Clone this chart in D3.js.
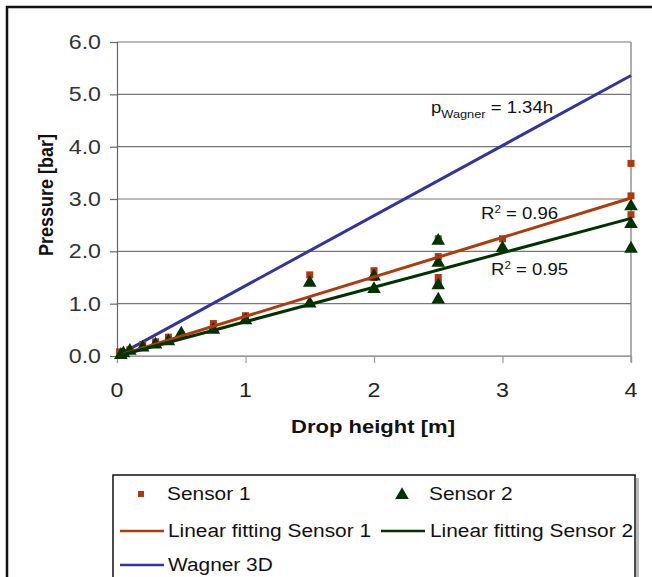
<!DOCTYPE html>
<html><head><meta charset="utf-8">
<script src="https://cdn.jsdelivr.net/npm/d3@7"></script>
<style>body{margin:0;background:#fff}svg{display:block}text{font-family:"Liberation Sans",Arial,sans-serif}</style>
</head><body>
<script>
const xTicks = [0,1,2,3,4];
const yTicks = [0,1,2,3,4,5,6];
const s1X = [0.02,0.05,0.1,0.2,0.3,0.4,0.5,0.75,1.0,1.5,2.0,2.0,2.5,2.5,2.5,2.5,3.0,4.0,4.0,4.0];
const s1Y = [0.08,0.05,0.12,0.22,0.27,0.36,0.40,0.62,0.77,1.55,1.63,1.50,2.24,1.90,1.50,1.40,2.24,3.68,3.06,2.70];
const s2X = [0.03,0.05,0.1,0.2,0.3,0.4,0.5,0.75,1.0,1.5,1.5,2.0,2.0,2.5,2.5,2.5,2.5,3.0,4.0,4.0,4.0];
const s2Y = [0.02,0.05,0.10,0.16,0.22,0.28,0.43,0.50,0.68,1.40,1.00,1.52,1.28,2.20,1.78,1.35,1.08,2.06,2.86,2.52,2.05];
const fit1X = [0.05,4.0], fit1Y = [0.04,3.02];
const fit2X = [0.05,4.0], fit2Y = [0.03,2.63];
const wagX = [0.05,4.0], wagY = [0.07,5.36];
const C1 = "#b03a0c", C2 = "#003300", CW = "#3434a0";
const SX = 1.16; // horizontal stretch of the reference text

const svg = d3.select("body").append("svg").attr("width",652).attr("height",577);
svg.append("rect").attr("x",7).attr("y",7).attr("width",700).attr("height",700)
  .attr("fill","none").attr("stroke","#111").attr("stroke-width",2.5);

function txt(g, px, py, size, str, anchor){
  const t = g.append("text").attr("transform",`translate(${px},${py}) scale(${SX},1)`)
    .attr("font-size",size).attr("text-anchor",anchor||"start").attr("fill","#111");
  if(str!==null) t.text(str);
  return t;
}

const x = d3.scaleLinear().domain([0,4]).range([117,631]);
const y = d3.scaleLinear().domain([0,6]).range([356,42]);

// gridlines
svg.append("g").selectAll("line").data(yTicks).join("line")
  .attr("x1",x(0)).attr("x2",x(4)).attr("y1",d=>y(d)).attr("y2",d=>y(d))
  .attr("stroke","#777").attr("stroke-width",1.2);
svg.append("line").attr("x1",x(4)).attr("x2",x(4)).attr("y1",y(6)).attr("y2",y(0)+6).attr("stroke","#777").attr("stroke-width",1.2);

const ya = svg.append("g").attr("transform",`translate(${x(0)},0)`)
  .call(d3.axisLeft(y).tickValues(yTicks).tickFormat("").tickSize(7));
const xa = svg.append("g").attr("transform",`translate(0,${y(0)})`)
  .call(d3.axisBottom(x).tickValues(xTicks).tickFormat("").tickSize(7));
ya.selectAll("path,line").attr("stroke","#666").attr("stroke-width",1.2);
xa.selectAll("path,line").attr("stroke","#999").attr("stroke-width",1.2);

const yl = svg.append("g");
yTicks.forEach(d=>txt(yl,101,y(d)+7,20,d3.format(".1f")(d),"end").attr("fill","#333"));
const xl = svg.append("g");
xTicks.forEach(d=>txt(xl,x(d),397,20,d3.format("d")(d),"middle").attr("fill","#222"));

svg.append("text").attr("transform","translate(53,195) scale(1.16,1) rotate(-90)").attr("text-anchor","middle")
  .attr("font-size",18).attr("font-weight","bold").attr("fill","#111").text("Pressure [bar]");
txt(svg,373,433,19,"Drop height [m]","middle").attr("font-weight","bold");

const line = d3.line().x(d=>x(d[0])).y(d=>y(d[1]));
svg.append("path").attr("d",line(d3.zip(wagX,wagY))).attr("stroke",CW).attr("stroke-width",3).attr("fill","none");

// markers
svg.append("g").selectAll("rect").data(d3.zip(s1X,s1Y)).join("rect")
  .attr("x",d=>x(d[0])-3.5).attr("y",d=>y(d[1])-3.5).attr("width",7).attr("height",7).attr("fill",C1);
const tri = d3.symbol().type(d3.symbolTriangle).size(80);
svg.append("g").selectAll("path").data(d3.zip(s2X,s2Y)).join("path")
  .attr("d",tri).attr("transform",d=>`translate(${x(d[0])},${y(d[1])})`).attr("fill",C2);

svg.append("path").attr("d",line(d3.zip(fit1X,fit1Y))).attr("stroke",C1).attr("stroke-width",3).attr("fill","none");
svg.append("path").attr("d",line(d3.zip(fit2X,fit2Y))).attr("stroke",C2).attr("stroke-width",3).attr("fill","none");

// annotations
const a1 = txt(svg,431,113,16,null);
a1.append("tspan").text("p");
a1.append("tspan").attr("font-size",11).attr("dy",5).text("Wagner");
a1.append("tspan").attr("dy",-5).text(" = 1.34h");
const a2 = txt(svg,481,219,16,null);
a2.append("tspan").text("R"); a2.append("tspan").attr("font-size",10).attr("dy",-6).text("2"); a2.append("tspan").attr("dy",6).text(" = 0.96");
const a3 = txt(svg,491,275,16,null);
a3.append("tspan").text("R"); a3.append("tspan").attr("font-size",10).attr("dy",-6).text("2"); a3.append("tspan").attr("dy",6).text(" = 0.95");

// legend
svg.append("rect").attr("x",636).attr("y",478).attr("width",3).attr("height",110).attr("fill","#bbb");
svg.append("rect").attr("x",113).attr("y",475).attr("width",522).attr("height",120)
  .attr("fill","#fff").attr("stroke","#111").attr("stroke-width",1.5);
const lg = svg.append("g");
lg.append("rect").attr("x",138).attr("y",491).attr("width",6).attr("height",6).attr("fill",C1);
txt(lg,167,500,18,"Sensor 1");
lg.append("path").attr("d",tri).attr("transform","translate(402,495)").attr("fill",C2);
txt(lg,429,500,18,"Sensor 2");
lg.append("line").attr("x1",120).attr("x2",164).attr("y1",531).attr("y2",531).attr("stroke",C1).attr("stroke-width",2.5);
txt(lg,168,537,18,"Linear fitting Sensor 1");
lg.append("line").attr("x1",381).attr("x2",425).attr("y1",531).attr("y2",531).attr("stroke",C2).attr("stroke-width",2.5);
txt(lg,430,537,18,"Linear fitting Sensor 2");
lg.append("line").attr("x1",120).attr("x2",164).attr("y1",565).attr("y2",565).attr("stroke",CW).attr("stroke-width",2.5);
txt(lg,168,571,18,"Wagner 3D");
</script>
</body></html>
